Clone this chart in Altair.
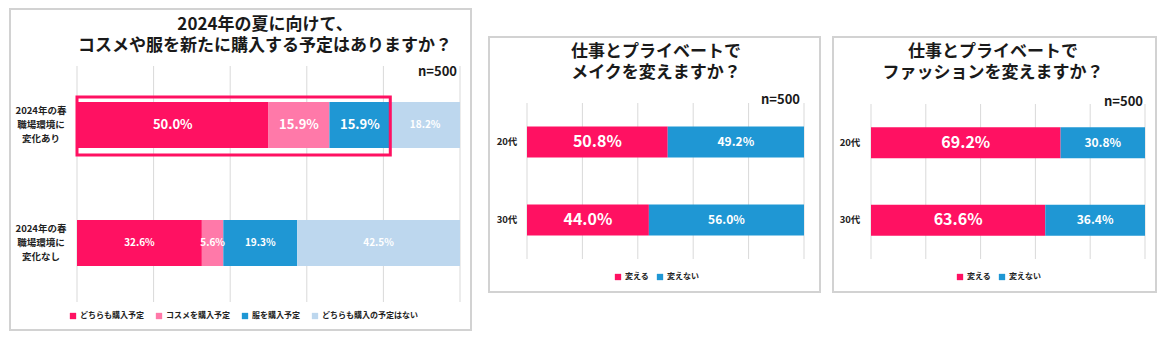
import altair as alt
import pandas as pd

FONT = "Noto Sans CJK JP"

# ---------------- data ----------------
p1_title = "2024年の夏に向けて、\nコスメや服を新たに購入する予定はありますか？"
p1_rows = ["2024年の春\n職場環境に\n変化あり", "2024年の春\n職場環境に\n変化なし"]
p1_series = ["どちらも購入予定", "コスメを購入予定", "服を購入予定", "どちらも購入の予定はない"]
p1_colors = ["#FF1162", "#FF79A9", "#1F97D4", "#BDD7EE"]
p1_values = [[50.0, 15.9, 15.9, 18.2], [32.6, 5.6, 19.3, 42.5]]

p2_title = "仕事とプライベートで\nメイクを変えますか？"
p3_title = "仕事とプライベートで\nファッションを変えますか？"
age_rows = ["20代", "30代"]
change_series = ["変える", "変えない"]
change_colors = ["#FF1162", "#1F97D4"]
p2_values = [[50.8, 49.2], [44.0, 56.0]]
p3_values = [[69.2, 30.8], [63.6, 36.4]]

sample_label = "n=500"
grid_ticks = [0, 20, 40, 60, 80, 100]


def stack_frame(rows, series, values):
    recs = []
    for ri, (r, vals) in enumerate(zip(rows, values)):
        acc = 0.0
        for si, (s, v) in enumerate(zip(series, vals)):
            recs.append(dict(row=r, ri=ri, series=s, si=si, value=v,
                             start=acc, end=acc + v, mid=acc + v / 2,
                             label=f"{v:.1f}%"))
            acc += v
    return pd.DataFrame(recs)


def panel(rows, series, colors, values, title, L, big_test, highlight=None):
    df = stack_frame(rows, series, values)
    xs = alt.Scale(domain=[0, 100], range=L["xr"], nice=False, zero=False)
    pi = L["pi"]
    ys = alt.Scale(domain=rows, range=L["yr"], paddingInner=pi, paddingOuter=pi / 2)
    one = pd.DataFrame({"a": [0]})

    border = alt.Chart(one).mark_rect(fill="white", stroke="#D2D2D2", strokeWidth=2).encode(
        x=alt.value(L["box"][0]), x2=alt.value(L["box"][1]),
        y=alt.value(L["box"][2]), y2=alt.value(L["box"][3]))

    grid = alt.Chart(pd.DataFrame({"t": grid_ticks})).mark_rule(color="#D9D9D9", strokeWidth=1).encode(
        x=alt.X("t:Q", scale=xs, axis=None),
        y=alt.value(L["yr"][0]), y2=alt.value(L["yr"][1]))

    bars = alt.Chart(df).mark_bar().encode(
        x=alt.X("start:Q", scale=xs, axis=None),
        x2="end:Q",
        y=alt.Y("row:N", scale=ys, axis=None),
        color=alt.Color("series:N", scale=alt.Scale(domain=series, range=colors),
                        legend=alt.Legend(orient="none", legendX=L["lx"], legendY=L["ly"],
                                          direction="horizontal", columns=len(series),
                                          title=None, symbolType="square", symbolSize=40,
                                          symbolStrokeWidth=0, labelFont=FONT, labelFontSize=8,
                                          labelFontWeight="bold", labelColor="#222222",
                                          columnPadding=L["cp"], labelOffset=3, padding=0)))

    big = alt.Chart(df).transform_filter(big_test).mark_text(
        font=FONT, fontSize=L["big"], fontWeight="bold", color="white").encode(
        x=alt.X("mid:Q", scale=xs, axis=None),
        y=alt.Y("row:N", scale=ys, axis=None),
        text="label:N")
    small = alt.Chart(df).transform_filter(f"!({big_test})").mark_text(
        font=FONT, fontSize=L["small"], fontWeight="bold", color="white").encode(
        x=alt.X("mid:Q", scale=xs, axis=None),
        y=alt.Y("row:N", scale=ys, axis=None),
        text="label:N")

    nlines = max(r.count("\n") + 1 for r in rows)
    rowlab = alt.Chart(pd.DataFrame({"row": rows})).mark_text(
        font=FONT, fontSize=L["rowsize"], fontWeight="bold", color="#222222",
        lineBreak="\n", lineHeight=14, align="center", baseline="middle",
        dy=-(nlines - 1) * 14 / 2).encode(
        x=alt.value(L["rowx"]),
        y=alt.Y("row:N", scale=ys, axis=None),
        text="row:N")

    ttl = alt.Chart(pd.DataFrame({"t": [title]})).mark_text(
        font=FONT, fontSize=17, fontWeight="bold", color="#1A1A1A",
        lineBreak="\n", lineHeight=21, align="center", baseline="middle").encode(
        x=alt.value(L["tx"]), y=alt.value(L["ty"]), text="t:N")

    nlab = alt.Chart(pd.DataFrame({"t": [sample_label]})).mark_text(
        font=FONT, fontSize=13, fontWeight="bold", color="#1A1A1A",
        align="right", baseline="middle").encode(
        x=alt.value(L["nx"]), y=alt.value(L["ny"]), text="t:N")

    layers = [border, grid, bars, big, small, rowlab, ttl, nlab]

    if highlight is not None:
        hdf = pd.DataFrame({"s": [0.0], "e": [sum(values[0][:highlight])]})
        hl = alt.Chart(hdf).mark_rect(fillOpacity=0, stroke="#FF1162", strokeWidth=3).encode(
            x=alt.X("s:Q", scale=xs, axis=None), x2="e:Q",
            y=alt.value(L["hy"][0]), y2=alt.value(L["hy"][1]))
        layers.append(hl)

    return alt.layer(*layers).properties(
        width=L["w"], height=337,
        view=alt.ViewBackground(stroke="transparent", strokeWidth=0))


L1 = dict(w=480, box=(10, 471, 9, 330), xr=[77, 460], yr=[66, 302], pi=0.61,
          lx=69, ly=312, cp=11, big=13, small=10, rowsize=9.5, rowx=41,
          tx=265, ty=25, nx=457, ny=72, hy=(97, 155))
L2 = dict(w=346, box=(9, 340, 37, 292), xr=[47, 324], yr=[103, 259], pi=0.60,
          lx=134, ly=273, cp=7, big=16, small=12, rowsize=9.5, rowx=27,
          tx=176, ty=52, nx=320, ny=100)
L3 = dict(w=339, box=(7, 330, 37, 292), xr=[45, 319], yr=[104, 259], pi=0.60,
          lx=130, ly=273, cp=7, big=16, small=12, rowsize=9.5, rowx=24,
          tx=167, ty=52, nx=317, ny=102)

c1 = panel(p1_rows, p1_series, p1_colors, p1_values, p1_title, L1,
           "datum.ri == 0 && datum.si < 3", highlight=3)
c2 = panel(age_rows, change_series, change_colors, p2_values, p2_title, L2, "datum.si == 0")
c3 = panel(age_rows, change_series, change_colors, p3_values, p3_title, L3, "datum.si == 0")

chart = alt.hconcat(c1, c2, c3, spacing=0, padding=0).resolve_scale(
    x="independent", y="independent", color="independent"
).resolve_legend(color="independent").configure_view(
    stroke="transparent", strokeWidth=0).configure(font=FONT)

chart.save("out.html", embed_options={"renderer": "svg", "actions": False})
